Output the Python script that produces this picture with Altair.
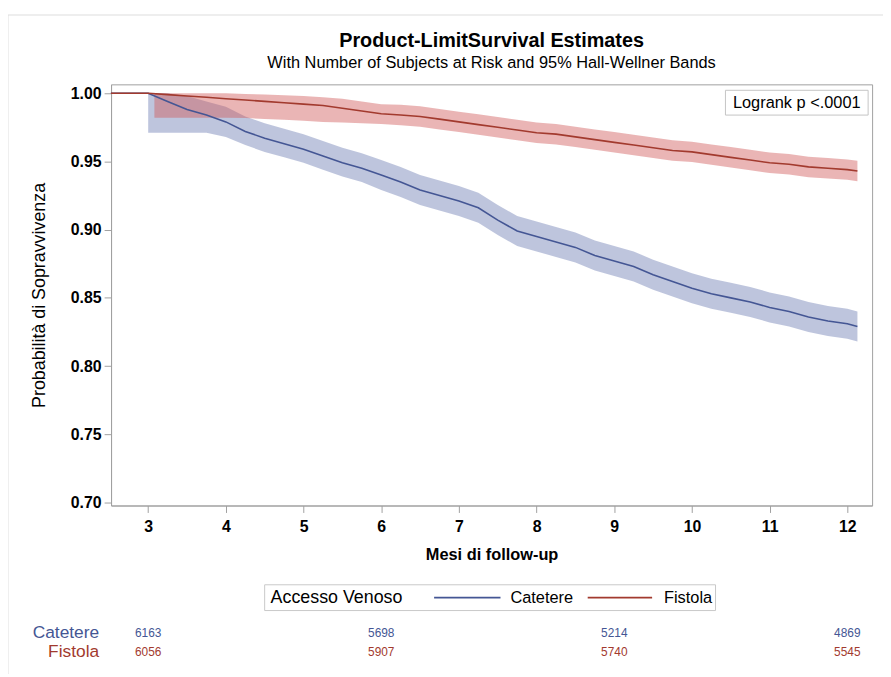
import altair as alt
import pandas as pd

FONT = "Liberation Sans"

# ---- data ----
groups = ["Catetere", "Fistola"]
legend_title = "Accesso Venoso"
line_colors = ["#445694", "#A23A2E"]
band_colors = ["#6F7EB3", "#D05B5B"]

months = [2.52, 3.0, 3.25, 3.5, 3.75, 4.0, 4.25, 4.5, 4.75, 5.0, 5.25, 5.5, 5.75,
          6.0, 6.25, 6.5, 6.75, 7.0, 7.25, 7.5, 7.75, 8.0, 8.25, 8.5, 8.75, 9.0,
          9.25, 9.5, 9.75, 10.0, 10.25, 10.5, 10.75, 11.0, 11.25, 11.5, 11.75,
          12.0, 12.13]

cat_surv = [1.0, 1.0, 0.994, 0.988, 0.984, 0.979, 0.972, 0.967, 0.963, 0.959,
            0.954, 0.949, 0.945, 0.940, 0.935, 0.929, 0.925, 0.921, 0.916, 0.907,
            0.899, 0.895, 0.891, 0.887, 0.881, 0.877, 0.873, 0.867, 0.862, 0.857,
            0.853, 0.850, 0.847, 0.843, 0.840, 0.836, 0.833, 0.831, 0.829]

fis_surv = [1.0, 1.0, 0.999, 0.998, 0.997, 0.996, 0.995, 0.994, 0.993, 0.992,
            0.991, 0.989, 0.987, 0.985, 0.984, 0.983, 0.981, 0.979, 0.977, 0.975,
            0.973, 0.971, 0.970, 0.968, 0.966, 0.964, 0.962, 0.960, 0.958, 0.957,
            0.955, 0.953, 0.951, 0.949, 0.948, 0.946, 0.945, 0.944, 0.943]

cat_band_months = [3.0, 3.25, 3.5, 3.75, 4.0, 4.25, 4.5, 4.75, 5.0, 5.25, 5.5, 5.75,
                   6.0, 6.25, 6.5, 6.75, 7.0, 7.25, 7.5, 7.75, 8.0, 8.25, 8.5, 8.75,
                   9.0, 9.25, 9.5, 9.75, 10.0, 10.25, 10.5, 10.75, 11.0, 11.25, 11.5,
                   11.75, 12.0, 12.13]
cat_lower = [0.971, 0.971, 0.971, 0.971, 0.968, 0.962, 0.957, 0.953, 0.949, 0.944,
             0.939, 0.935, 0.929, 0.924, 0.918, 0.914, 0.910, 0.905, 0.896, 0.888,
             0.884, 0.880, 0.876, 0.870, 0.866, 0.862, 0.856, 0.851, 0.846, 0.842,
             0.839, 0.836, 0.832, 0.829, 0.825, 0.822, 0.820, 0.818]
cat_upper = [1.0, 1.0, 0.998, 0.994, 0.990, 0.983, 0.978, 0.974, 0.970, 0.965,
             0.960, 0.956, 0.951, 0.946, 0.940, 0.936, 0.932, 0.927, 0.918, 0.910,
             0.906, 0.902, 0.898, 0.892, 0.888, 0.884, 0.878, 0.873, 0.868, 0.864,
             0.861, 0.858, 0.854, 0.851, 0.847, 0.844, 0.842, 0.840]

fis_band_months = [3.08, 3.25, 3.5, 3.75, 4.0, 4.25, 4.5, 4.75, 5.0, 5.25, 5.5, 5.75,
                   6.0, 6.25, 6.5, 6.75, 7.0, 7.25, 7.5, 7.75, 8.0, 8.25, 8.5, 8.75,
                   9.0, 9.25, 9.5, 9.75, 10.0, 10.25, 10.5, 10.75, 11.0, 11.25, 11.5,
                   11.75, 12.0, 12.13]
fis_lower = [0.982, 0.982, 0.982, 0.982, 0.982, 0.9818, 0.9812, 0.9805, 0.9798, 0.979,
             0.9785, 0.978, 0.9775, 0.9765, 0.9755, 0.9735, 0.9715, 0.9695, 0.9675,
             0.9655, 0.9635, 0.9625, 0.9605, 0.9585, 0.9565, 0.9545, 0.9525, 0.9505,
             0.9495, 0.9475, 0.9455, 0.9435, 0.9415, 0.9405, 0.9385, 0.9375, 0.9365,
             0.9355]
fis_upper = [1.0, 1.0, 1.0, 1.0, 1.0, 0.9995, 0.999, 0.9985, 0.998, 0.997, 0.996,
             0.994, 0.992, 0.9915, 0.9905, 0.9885, 0.9865, 0.9845, 0.9825, 0.9805,
             0.9785, 0.9775, 0.9755, 0.9735, 0.9715, 0.9695, 0.9675, 0.9655, 0.9645,
             0.9625, 0.9605, 0.9585, 0.9565, 0.9555, 0.9535, 0.9525, 0.9515, 0.9505]

risk_months = [3, 6, 9, 12]
risk_cat = [6163, 5698, 5214, 4869]
risk_fis = [6056, 5907, 5740, 5545]

x_ticks = [3, 4, 5, 6, 7, 8, 9, 10, 11, 12]
y_ticks = [0.70, 0.75, 0.80, 0.85, 0.90, 0.95, 1.00]

# ---- tables ----
lines_df = pd.DataFrame({
    "month": months * 2,
    "surv": cat_surv + fis_surv,
    "group": [groups[0]] * len(months) + [groups[1]] * len(months),
})
bands_df = pd.DataFrame({
    "month": cat_band_months + fis_band_months,
    "lower": cat_lower + fis_lower,
    "upper": cat_upper + fis_upper,
    "band": [groups[0]] * len(cat_band_months) + [groups[1]] * len(fis_band_months),
})
risk_cat_df = pd.DataFrame({"month": risk_months, "n": risk_cat})
risk_fis_df = pd.DataFrame({"month": risk_months, "n": risk_fis})
one = pd.DataFrame({"k": [0]})

xscale = alt.Scale(domain=[2.522, 12.319], nice=False, zero=False)
yscale = alt.Scale(domain=[0.6978, 1.0065], nice=False, zero=False)
xaxis = alt.Axis(title="Mesi di follow-up", values=x_ticks, format="d",
                 titlePadding=12, labelPadding=6)
yaxis = alt.Axis(title="Probabilità di Sopravvivenza", values=y_ticks, format=".2f",
                 titlePadding=22, labelPadding=3, titleFontWeight="normal",
                 titleFontSize=18)

bands = alt.Chart(bands_df).mark_area(opacity=0.45).encode(
    x=alt.X("month:Q", scale=xscale, axis=xaxis),
    y=alt.Y("lower:Q", scale=yscale, axis=yaxis),
    y2="upper:Q",
    fill=alt.Fill("band:N", scale=alt.Scale(domain=groups, range=band_colors),
                  legend=None),
)

lines = alt.Chart(lines_df).mark_line(strokeWidth=1.6).encode(
    x=alt.X("month:Q", scale=xscale, axis=xaxis),
    y=alt.Y("surv:Q", scale=yscale, axis=yaxis),
    color=alt.Color("group:N", scale=alt.Scale(domain=groups, range=line_colors),
                    legend=None),
)

# ---- number-at-risk table ----
risk_c = alt.Chart(risk_cat_df).mark_text(font=FONT, fontSize=12, color=line_colors[0],
                                          baseline="middle").encode(
    x=alt.X("month:Q", scale=xscale, axis=xaxis),
    y=alt.value(554),
    text="n:Q",
)
risk_f = alt.Chart(risk_fis_df).mark_text(font=FONT, fontSize=12, color=line_colors[1],
                                          baseline="middle").encode(
    x=alt.X("month:Q", scale=xscale, axis=xaxis),
    y=alt.value(573),
    text="n:Q",
)
lab_c = alt.Chart(one).mark_text(font=FONT, fontSize=17.5, color=line_colors[0],
                                 align="right", baseline="middle").encode(
    x=alt.value(-12), y=alt.value(554), text=alt.value(groups[0]))
lab_f = alt.Chart(one).mark_text(font=FONT, fontSize=17.5, color=line_colors[1],
                                 align="right", baseline="middle").encode(
    x=alt.value(-12), y=alt.value(573), text=alt.value(groups[1]))

# ---- legend box (drawn as annotation) ----
leg_box = alt.Chart(one).mark_rect(fill="white", stroke="#c8c8c8", strokeWidth=1).encode(
    x=alt.value(155), x2=alt.value(610), y=alt.value(505), y2=alt.value(531))
leg_title = alt.Chart(one).mark_text(font=FONT, fontSize=18, color="black",
                                     align="left", baseline="middle").encode(
    x=alt.value(161), y=alt.value(518), text=alt.value(legend_title))
leg_line_c = alt.Chart(one).mark_rule(color=line_colors[0], strokeWidth=1.6).encode(
    x=alt.value(326), x2=alt.value(393), y=alt.value(518))
leg_lab_c = alt.Chart(one).mark_text(font=FONT, fontSize=16.5, color="black",
                                     align="left", baseline="middle").encode(
    x=alt.value(403), y=alt.value(518), text=alt.value(groups[0]))
leg_line_f = alt.Chart(one).mark_rule(color=line_colors[1], strokeWidth=1.6).encode(
    x=alt.value(481), x2=alt.value(546), y=alt.value(518))
leg_lab_f = alt.Chart(one).mark_text(font=FONT, fontSize=16.5, color="black",
                                     align="left", baseline="middle").encode(
    x=alt.value(558), y=alt.value(518), text=alt.value(groups[1]))

# ---- log-rank annotation ----
logbox = alt.Chart(one).mark_rect(fill="white", stroke="#c4c4c4", strokeWidth=1).encode(
    x=alt.value(620), x2=alt.value(764), y=alt.value(6), y2=alt.value(31))
logtext = alt.Chart(one).mark_text(font=FONT, fontSize=16.5, color="black",
                                   align="center", baseline="middle").encode(
    x=alt.value(692), y=alt.value(19), text=alt.value("Logrank p <.0001"))

frame_top = alt.Chart(one).mark_rule(color="#dedede", strokeWidth=1).encode(
    x=alt.value(-104), x2=alt.value(779), y=alt.value(-70))
frame_left = alt.Chart(one).mark_rule(color="#dedede", strokeWidth=1).encode(
    x=alt.value(-104), y=alt.value(-70), y2=alt.value(595))

chart = alt.layer(
    frame_top, frame_left, bands, lines, logbox, logtext, risk_c, risk_f, lab_c, lab_f,
    leg_box, leg_title, leg_line_c, leg_lab_c, leg_line_f, leg_lab_f
).properties(
    width=768,
    height=425,
    padding={"left": 104, "top": 74, "right": 11, "bottom": 170},
    autosize=alt.AutoSizeParams(type="none"),
    background="white",
    title=alt.Title(
        "Product-LimitSurvival Estimates",
        subtitle="With Number of Subjects at Risk and 95% Hall-Wellner Bands",
        font=FONT, subtitleFont=FONT, fontSize=20, subtitleFontSize=16.5,
        fontWeight="bold", color="black", subtitleColor="black",
        anchor="middle", frame="group", offset=12, subtitlePadding=4, dy=69,
    ),
).configure_view(
    stroke="#a0a0a0", strokeWidth=1
).configure_axis(
    grid=False, domainColor="#a0a0a0", tickColor="#a0a0a0", tickSize=7,
    labelFont=FONT, titleFont=FONT, labelFontSize=16, labelFontWeight="bold",
    labelColor="black", titleColor="black", titleFontSize=16.5,
    titleFontWeight="bold",
)

chart.save("out.html", embed_options={"renderer": "svg", "actions": False})
